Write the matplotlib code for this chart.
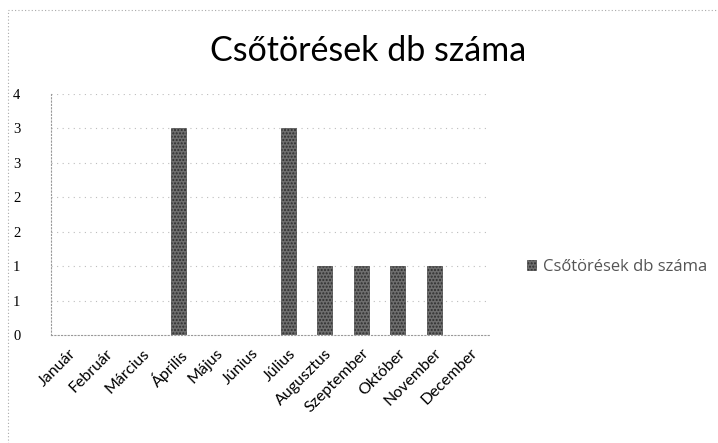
import numpy as np
import matplotlib
matplotlib.use('Agg')
import matplotlib.pyplot as plt
from matplotlib.patches import Rectangle

months = ['Január', 'Február', 'Március', 'Április', 'Május', 'Június',
          'Július', 'Augusztus', 'Szeptember', 'Október', 'November', 'December']
counts = [0, 0, 0, 3, 0, 0, 3, 1, 1, 1, 1, 0]
yticks = [0, 0.5, 1, 1.5, 2, 2.5, 3, 3.5]
ytick_labels = ['0', '1', '1', '2', '2', '3', '3', '4']  # excel rounds the half steps
series_name = 'Csőtörések db száma'

fig = plt.figure(figsize=(7.18, 4.43), dpi=100)
ax = fig.add_axes([51/718, 1-335/443, 438/718, 241/443])

x = np.arange(len(months))
ax.bar(x, counts, width=0.4, color='#6e6e6e', edgecolor='#2e2e2e', linewidth=0.4,
       hatch='.....', label=series_name)

ax.set_xlim(-0.5, len(months)-0.5)
ax.set_ylim(0, 3.5)
ax.set_yticks(yticks)
ax.set_yticklabels(ytick_labels, family='Liberation Serif', fontsize=10.5)
ax.set_xticks(x)
ax.set_xticklabels(months, rotation=45, ha='right', rotation_mode='anchor',
                   family='Lato', fontsize=11.5)
ax.tick_params(length=0, pad=8)
ax.tick_params(axis='y', pad=22)

for y in yticks[1:]:
    ax.axhline(y, color='#bdbdbd', linestyle=(0, (1, 4)), linewidth=0.8, zorder=0)
for s in ['top', 'right']:
    ax.spines[s].set_visible(False)
for s in ['left', 'bottom']:
    ax.spines[s].set_linestyle((0, (1, 2)))
    ax.spines[s].set_color('#999999')
    ax.spines[s].set_linewidth(0.8)
ax.set_axisbelow(True)

fig.text(368/718, 1-51/443, 'Csőtörések db száma', ha='center', va='center',
         family='Lato', fontsize=24.5)

leg = ax.legend(loc='center left', bbox_to_anchor=(512/718, 1-267/443),
                bbox_transform=fig.transFigure, frameon=False,
                handlelength=0.55, handleheight=0.55, handletextpad=0.4,
                prop={'family': 'Open Sans', 'size': 12})
for t in leg.get_texts():
    t.set_color('#555555')

# dotted frame around the chart
fig.patches.append(Rectangle((8/718, -0.1), 1.2, 1.1-10/443, transform=fig.transFigure,
                             fill=False, edgecolor='#aaaaaa', linestyle=(0, (1, 2)),
                             linewidth=0.8))

fig.savefig('out.png', dpi=100)
